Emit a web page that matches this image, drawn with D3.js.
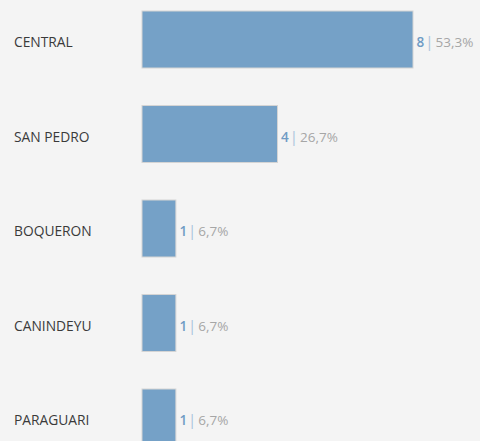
<!DOCTYPE html>
<html>
<head>
<meta charset="utf-8">
<script src="https://cdn.jsdelivr.net/npm/d3@7"></script>
<style>
  body { margin: 0; background: #f4f4f4; }
  svg { display: block; }
</style>
</head>
<body>
<svg id="chart"></svg>
<script>
const departamentos = ["CENTRAL", "SAN PEDRO", "BOQUERON", "CANINDEYU", "PARAGUARI"];
const casos = [8, 4, 1, 1, 1];
const porcentajes = ["53,3%", "26,7%", "6,7%", "6,7%", "6,7%"];

const width = 480, height = 441;

const svg = d3.select("#chart")
    .attr("width", width)
    .attr("height", height);

svg.append("rect")
    .attr("width", width)
    .attr("height", height)
    .attr("fill", "#f4f4f4");

// scales
const x = d3.scaleLinear()
    .domain([0, 8])
    .range([142, 413]);

const y = d3.scaleBand()
    .domain(departamentos)
    .range([-7.75, 464.75])
    .paddingInner(0.397)
    .paddingOuter(0.1985);

const rows = departamentos.map((d, i) => ({ name: d, value: casos[i], pct: porcentajes[i] }));

// bars
svg.selectAll("rect.bar")
    .data(rows)
    .enter()
    .append("rect")
    .attr("class", "bar")
    .attr("x", x(0))
    .attr("y", d => y(d.name))
    .attr("width", d => x(d.value) - x(0))
    .attr("height", y.bandwidth())
    .attr("fill", "#75a1c7")
    .attr("stroke", "#d4d4d4")
    .attr("stroke-width", 1);

// category labels
svg.selectAll("text.cat")
    .data(rows)
    .enter()
    .append("text")
    .attr("class", "cat")
    .attr("x", 14)
    .attr("y", d => y(d.name) + y.bandwidth() / 2 + 7.8)
    .style("font-family", "Open Sans")
    .style("font-size", "13.8px")
    .style("fill", "#3a3a3a")
    .text(d => d.name);

// value labels
const lab = svg.selectAll("text.val")
    .data(rows)
    .enter()
    .append("text")
    .attr("class", "val")
    .attr("x", d => x(d.value) + 3.5)
    .attr("y", d => y(d.name) + y.bandwidth() / 2 + 7.5)
    .style("font-family", "Open Sans")
    .style("font-size", "13.5px");

lab.append("tspan")
    .style("fill", "#6f9bc4")
    .style("font-weight", "600")
    .text(d => d.value);

lab.append("tspan")
    .attr("dx", 1)
    .style("fill", "#a9c3dc")
    .style("font-size", "15px")
    .text("|");

lab.append("tspan")
    .attr("dx", 2)
    .style("fill", "#a6a6a6")
    .text(d => d.pct);
</script>
</body>
</html>
